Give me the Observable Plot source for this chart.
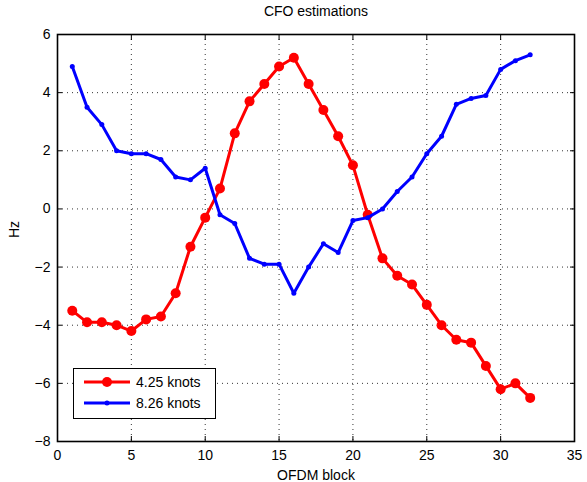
<!DOCTYPE html>
<html><head><meta charset="utf-8">
<script src="https://cdn.jsdelivr.net/npm/d3@7"></script>
<script src="https://cdn.jsdelivr.net/npm/@observablehq/plot@0.6"></script>
<style>
body{margin:0;background:#fff;font-family:"Liberation Sans",Arial,sans-serif;}
#wrap{position:relative;width:587px;height:482px;}
#legend{position:absolute;left:73px;top:368px;width:143px;height:51px;border:1.5px solid #000;background:#fff;font-size:14px;box-sizing:border-box;}
.row{position:absolute;left:8px;display:flex;align-items:center;}
.row span{margin-left:4px;}
</style></head><body>
<div id="wrap"></div>
<script>
const blocks = d3.range(1, 33);
const red425 = [-3.5,-3.9,-3.9,-4.0,-4.2,-3.8,-3.7,-2.9,-1.3,-0.3,0.7,2.6,3.7,4.3,4.9,5.2,4.3,3.4,2.5,1.5,-0.2,-1.7,-2.3,-2.6,-3.3,-4.0,-4.5,-4.6,-5.4,-6.2,-6.0,-6.5];
const blue826 = [4.9,3.5,2.9,2.0,1.9,1.9,1.7,1.1,1.0,1.4,-0.2,-0.5,-1.7,-1.9,-1.9,-2.9,-2.0,-1.2,-1.5,-0.4,-0.3,0.0,0.6,1.1,1.9,2.5,3.6,3.8,3.9,4.8,5.1,5.3];
const xTicks = [0,5,10,15,20,25,30,35];
const yTicks = [-8,-6,-4,-2,0,2,4,6];
const seriesNames = ["4.25 knots","8.26 knots"];
const colors = ["#ff0000","#0000ff"];
const title = "CFO estimations";
const xLabel = "OFDM block";
const yLabel = "Hz";

const redData = blocks.map((b,i)=>({x:b,y:red425[i]}));
const blueData = blocks.map((b,i)=>({x:b,y:blue826[i]}));

const plot = Plot.plot({
  width:587, height:482,
  marginTop:34, marginLeft:57, marginRight:13, marginBottom:41,
  style:{fontFamily:"Liberation Sans, Arial, sans-serif", fontSize:"14px", background:"#fff", color:"#000"},
  x:{domain:[0,35]},
  y:{domain:[-8,6]},
  marks:[
    Plot.gridX(xTicks.slice(1,-1), {stroke:"#000", strokeOpacity:0.8, strokeDasharray:"1,4"}),
    Plot.gridY(yTicks.slice(1,-1), {stroke:"#000", strokeOpacity:0.8, strokeDasharray:"1,4"}),
    Plot.axisX(xTicks, {tickSize:-5, tickPadding:14, fontSize:14, label:null}),
    Plot.axisX(xTicks, {anchor:"top", tickSize:-5, tickFormat:()=>"", label:null}),
    Plot.axisY(yTicks, {tickSize:-5, tickPadding:12, fontSize:14, label:null}),
    Plot.axisY(yTicks, {anchor:"right", tickSize:-5, tickFormat:()=>"", label:null}),
    Plot.frame({stroke:"#000", strokeWidth:1.6}),
    Plot.line(redData, {x:"x", y:"y", stroke:colors[0], strokeWidth:3}),
    Plot.dot(redData, {x:"x", y:"y", fill:colors[0], r:5}),
    Plot.line(blueData, {x:"x", y:"y", stroke:colors[1], strokeWidth:3}),
    Plot.dot(blueData, {x:"x", y:"y", fill:colors[1], r:2.5}),
    Plot.text([title], {frameAnchor:"top", dy:-28, fontSize:14}),
    Plot.text([xLabel], {frameAnchor:"bottom", dy:38, fontSize:14}),
    Plot.text([yLabel], {frameAnchor:"left", dx:-43, rotate:-90, fontSize:14})
  ]
});
const wrap = document.getElementById("wrap");
wrap.appendChild(plot);

const legend = document.createElement("div");
legend.id = "legend";
seriesNames.forEach((name,i)=>{
  const row = document.createElement("div");
  row.className = "row";
  row.style.top = (i===0 ? 5 : 26) + "px";
  const r = i===0 ? 5 : 2.5;
  row.innerHTML = `<svg width="50" height="16"><line x1="2" x2="48" y1="8" y2="8" stroke="${colors[i]}" stroke-width="3"/><circle cx="25" cy="8" r="${r}" fill="${colors[i]}"/></svg><span>${name}</span>`;
  legend.appendChild(row);
});
wrap.appendChild(legend);
</script>
</body></html>
